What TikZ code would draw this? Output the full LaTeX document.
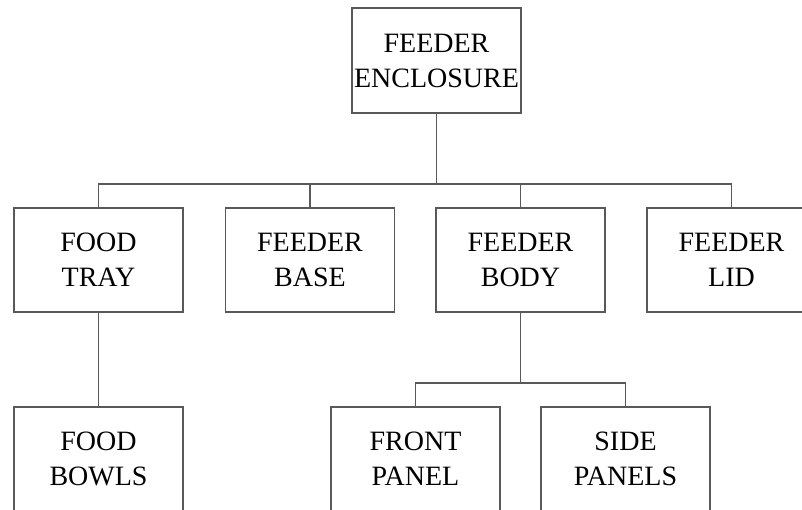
\documentclass[tikz,border=0pt]{standalone}
\usepackage{fontspec}
\setmainfont{Liberation Serif}
\usepackage{tikz}
\usetikzlibrary{positioning}

\begin{document}
\begin{tikzpicture}[
  x=1pt, y=-1pt,
  part/.style={draw=black!65, line width=1.1pt, rectangle, minimum width=169pt,
               minimum height=104pt, align=center, inner sep=0pt,
               font=\fontsize{28}{35}\selectfont},
  link/.style={draw=black!65, line width=1.1pt},
]
\useasboundingbox (0,0) rectangle (802,509);

%% Nodes
\node[part, minimum height=105pt] (enc) at (436.5,60.5) {FEEDER\\ENCLOSURE};

\node[part] (tray) at (98.5,260)  {FOOD\\TRAY};
\node[part] (base) at (310,260)   {FEEDER\\BASE};
\node[part] (body) at (520.5,260) {FEEDER\\BODY};
\node[part] (lid)  at (731.5,260) {FEEDER\\LID};

\node[part] (bowls) at (98.5,459)  {FOOD\\BOWLS};
\node[part] (front) at (415.5,459) {FRONT\\PANEL};
\node[part] (side)  at (625.5,459) {SIDE\\PANELS};

%% Bus points
\coordinate (bus1) at (436.5,184);
\coordinate (bus2) at (520.5,383);

%% Connectors
% enclosure -> first level
\draw[link] (enc.south) -- (bus1);
\draw[link] (bus1) -| (tray.north);
\draw[link] (bus1) -| (base.north);
\draw[link] (bus1) -| (body.north);
\draw[link] (bus1) -| (lid.north);

% food tray -> food bowls
\draw[link] (tray.south) -- (bowls.north);

% feeder body -> panels
\draw[link] (body.south) -- (bus2);
\draw[link] (bus2) -| (front.north);
\draw[link] (bus2) -| (side.north);

\end{tikzpicture}
\end{document}
